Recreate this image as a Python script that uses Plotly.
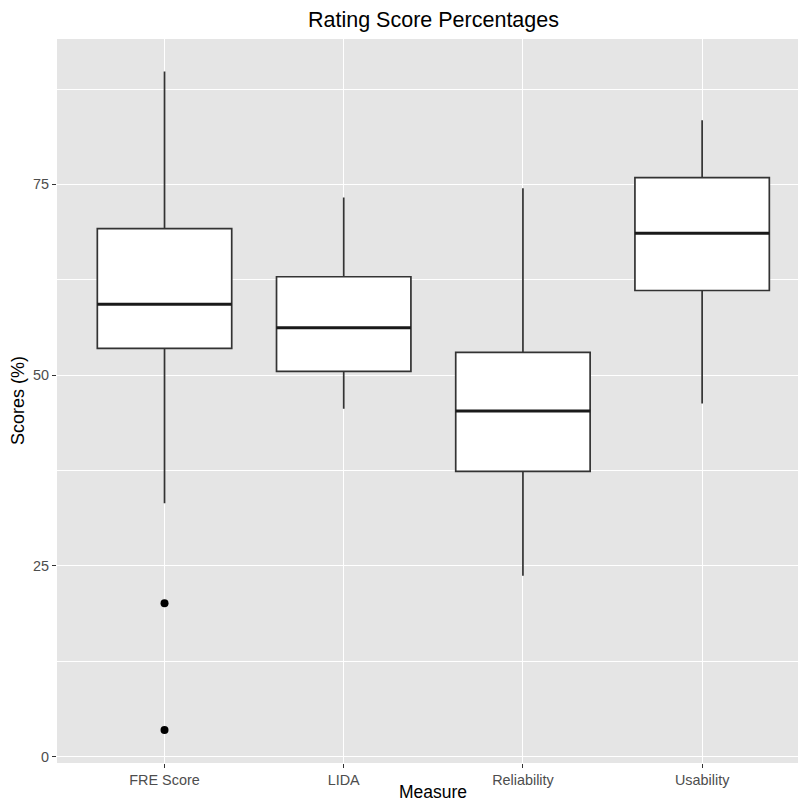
import plotly.graph_objects as go

# Summary statistics per measure (percent scores)
measures = ["FRE Score", "LIDA", "Reliability", "Usability"]
lower_whisker = [33.2, 45.6, 23.7, 46.3]
q1_values = [53.5, 50.5, 37.4, 61.1]
median_values = [59.3, 56.2, 45.3, 68.6]
q3_values = [69.2, 62.9, 53.0, 75.9]
upper_whisker = [89.8, 73.3, 74.5, 83.4]

# Outlying observations (FRE Score only)
outlier_measure = ["FRE Score", "FRE Score"]
outlier_values = [20.1, 3.5]

y_ticks = [0, 25, 50, 75]

positions = list(range(len(measures)))
box_width = 0.75
edge_color = "#333333"
panel_bg = "#E5E5E5"
font_family = "Liberation Sans, Arial, Helvetica, sans-serif"

fig = go.Figure()

fig.add_trace(go.Box(
    x=positions,
    q1=q1_values,
    median=median_values,
    q3=q3_values,
    lowerfence=lower_whisker,
    upperfence=upper_whisker,
    width=box_width,
    whiskerwidth=0,
    fillcolor="white",
    line=dict(color=edge_color, width=1.7),
    boxpoints=False,
    showlegend=False,
    hoverinfo="skip",
))

fig.add_trace(go.Scatter(
    x=[measures.index(m) for m in outlier_measure],
    y=outlier_values,
    mode="markers",
    marker=dict(color="black", size=8),
    showlegend=False,
    hoverinfo="skip",
))

# thicker median bars, as in ggplot's fattened median
for pos, med in zip(positions, median_values):
    fig.add_shape(
        type="line", xref="x", yref="y",
        x0=pos - box_width / 2, x1=pos + box_width / 2, y0=med, y1=med,
        line=dict(color="#1A1A1A", width=3),
        layer="above",
    )

W, H = 798, 803
ml, mr, mt, mb = 57, 0, 39, 40
pw, ph = W - ml - mr, H - mt - mb


def px_x(px):
    return (px - ml) / pw


def px_y(py):
    return (H - mb - py) / ph


fig.update_layout(
    width=W, height=H,
    margin=dict(l=ml, r=mr, t=mt, b=mb, pad=0),
    paper_bgcolor="white",
    plot_bgcolor=panel_bg,
    font=dict(family=font_family, color="black"),
    xaxis=dict(
        range=[-0.6, 3.535],
        tickvals=positions,
        ticktext=measures,
        showgrid=True, gridcolor="white", gridwidth=1.4,
        zeroline=False, showline=False,
        ticks="outside", ticklen=4, tickwidth=1.2, tickcolor=edge_color,
        tickfont=dict(size=14.4, color="#4D4D4D"),
        automargin=False,
    ),
    yaxis=dict(
        range=[-0.83, 94.06],
        tickvals=y_ticks,
        showgrid=True, gridcolor="white", gridwidth=1.4,
        zeroline=False, showline=False,
        ticks="outside", ticklen=4, tickwidth=1.2, tickcolor=edge_color,
        tickfont=dict(size=14.4, color="#4D4D4D"),
        minor=dict(tick0=12.5, dtick=25, showgrid=True, gridcolor="white", gridwidth=0.7, ticks=""),
        automargin=False,
    ),
    annotations=[
        dict(text="Rating Score Percentages", xref="paper", yref="paper",
             x=px_x(433), y=px_y(20), xanchor="center", yanchor="middle",
             showarrow=False, font=dict(size=21.5, color="black")),
        dict(text="Measure", xref="paper", yref="paper",
             x=px_x(433), y=px_y(792), xanchor="center", yanchor="middle",
             showarrow=False, font=dict(size=17.5, color="black")),
        dict(text="Scores (%)", xref="paper", yref="paper",
             x=px_x(18), y=px_y(401), xanchor="center", yanchor="middle",
             textangle=-90, showarrow=False, font=dict(size=18, color="black")),
    ],
)

fig.write_html("out.html")
